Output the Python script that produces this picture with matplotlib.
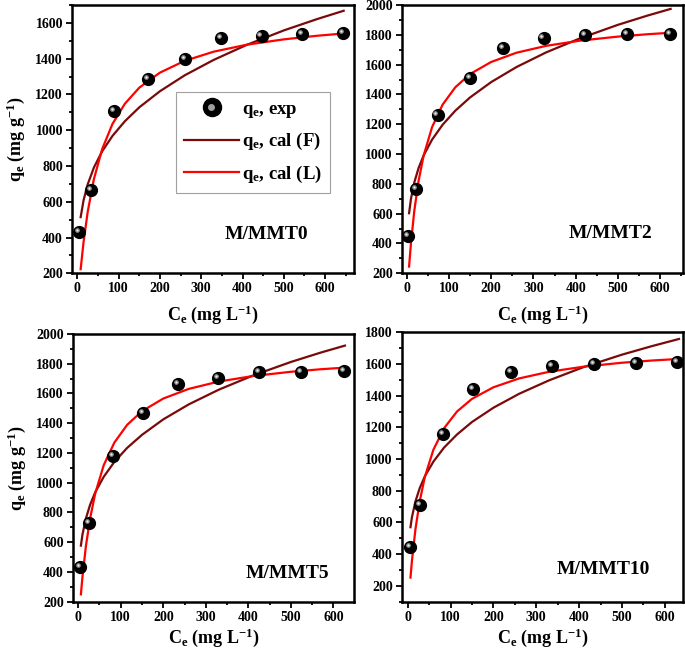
import matplotlib
matplotlib.use("Agg")
import matplotlib.pyplot as plt
import matplotlib.transforms as mtransforms
from matplotlib.lines import Line2D
from matplotlib.legend_handler import HandlerTuple
from matplotlib.ticker import MultipleLocator

plt.rcParams['font.family'] = ['Liberation Serif', 'DejaVu Serif']
plt.rcParams['font.weight'] = 'bold'
plt.rcParams['axes.labelweight'] = 'bold'
plt.rcParams['mathtext.fontset'] = 'custom'
plt.rcParams['mathtext.rm'] = 'Liberation Serif:bold'
plt.rcParams['mathtext.bf'] = 'Liberation Serif:bold'
plt.rcParams['mathtext.it'] = 'Liberation Serif:bold'
plt.rcParams['mathtext.default'] = 'bf'

# ---- data ----
names = ["M/MMT0", "M/MMT2", "M/MMT5", "M/MMT10"]

ce_mmt0 = [5, 33, 89, 172, 260, 348, 446, 545, 643]
qe_mmt0 = [433, 667, 1105, 1286, 1398, 1516, 1529, 1540, 1544]
cfit_mmt0 = [8, 15, 25, 40, 60, 85, 115, 150, 200, 260, 330, 410, 500, 580, 645]
qF_mmt0 = [514, 608, 697, 791, 882, 968, 1050, 1128, 1218, 1307, 1393, 1477, 1558, 1621, 1668]
qL_mmt0 = [223, 375, 543, 726, 894, 1035, 1148, 1238, 1322, 1388, 1439, 1478, 1508, 1528, 1541]

ce_mmt2 = [4, 22, 73, 150, 229, 324, 422, 522, 623]
qe_mmt2 = [447, 767, 1260, 1507, 1709, 1780, 1798, 1803, 1807]
cfit_mmt2 = [5.5, 10, 18, 28, 40, 60, 85, 115, 150, 200, 260, 330, 410, 500, 570, 625]
qF_mmt2 = [603, 700, 811, 906, 991, 1097, 1197, 1291, 1380, 1483, 1584, 1682, 1776, 1867, 1929, 1974]
qL_mmt2 = [245, 403, 622, 820, 990, 1181, 1332, 1448, 1537, 1618, 1680, 1726, 1761, 1788, 1804, 1814]

ce_mmt5 = [4, 26, 82, 153, 234, 329, 425, 524, 625]
qe_mmt5 = [435, 727, 1180, 1471, 1664, 1706, 1747, 1747, 1753]
cfit_mmt5 = [6.3, 10, 18, 28, 40, 60, 85, 115, 150, 200, 260, 330, 410, 500, 570, 627]
qF_mmt5 = [577, 651, 759, 852, 936, 1040, 1140, 1234, 1322, 1426, 1527, 1625, 1720, 1812, 1875, 1922]
qL_mmt5 = [249, 367, 572, 761, 928, 1118, 1270, 1389, 1481, 1566, 1631, 1680, 1717, 1746, 1763, 1774]

ce_mmt10 = [5, 29, 83, 153, 241, 336, 435, 532, 629]
qe_mmt10 = [442, 707, 1159, 1441, 1548, 1590, 1598, 1608, 1612]
cfit_mmt10 = [6.5, 10, 18, 28, 40, 60, 85, 115, 150, 200, 260, 330, 410, 500, 570, 633]
qF_mmt10 = [570, 634, 732, 816, 891, 984, 1073, 1155, 1234, 1324, 1412, 1497, 1580, 1659, 1713, 1758]
qL_mmt10 = [252, 360, 555, 733, 887, 1059, 1195, 1300, 1380, 1453, 1509, 1551, 1583, 1608, 1622, 1632]

panels = [
    (ce_mmt0, qe_mmt0, cfit_mmt0, qF_mmt0, qL_mmt0),
    (ce_mmt2, qe_mmt2, cfit_mmt2, qF_mmt2, qL_mmt2),
    (ce_mmt5, qe_mmt5, cfit_mmt5, qF_mmt5, qL_mmt5),
    (ce_mmt10, qe_mmt10, cfit_mmt10, qF_mmt10, qL_mmt10),
]

# ---- layout ----
positions = [
    [0.1051, 0.5815, 0.4117, 0.4108],
    [0.5864, 0.5815, 0.4111, 0.4108],
    [0.1061, 0.0786, 0.4111, 0.4099],
    [0.5864, 0.0786, 0.4111, 0.4125],
]
xlims = [(-13, 670), (-12, 655), (-13, 649), (-14, 643)]
ylims = [(200, 1700), (200, 2000), (200, 2000), (100, 1800)]
label_pos = [(0.69, 0.143), (0.74, 0.150), (0.761, 0.107), (0.715, 0.118)]

dark_red = '#7a0a0a'
red = '#ff0000'

fig = plt.figure(figsize=(6.85, 6.53), dpi=100)

for i, (ce, qe, cfit, qF, qL) in enumerate(panels):
    ax = fig.add_axes(positions[i])
    ax.plot(cfit, qF, color=dark_red, lw=1.6, zorder=2)
    ax.plot(cfit, qL, color=red, lw=1.6, zorder=3)
    # sphere-like markers: black ball plus a highlight shifted up-left
    ax.plot(ce, qe, 'o', ms=8.5, color='black', mec='black', zorder=4)
    hl = mtransforms.offset_copy(ax.transData, fig=fig, x=-1.5, y=1.5, units='points')
    ax.plot(ce, qe, 'o', ms=3.4, color='#8c8c8c', mec='none', transform=hl, zorder=5)
    ax.plot(ce, qe, 'o', ms=1.5, color='#f0f0f0', mec='none', transform=hl, zorder=6)

    ax.set_xlim(*xlims[i])
    ax.set_ylim(*ylims[i])
    ax.xaxis.set_major_locator(MultipleLocator(100))
    ax.xaxis.set_minor_locator(MultipleLocator(50))
    ax.yaxis.set_major_locator(MultipleLocator(200))
    ax.yaxis.set_minor_locator(MultipleLocator(100))
    ax.tick_params(which='both', direction='out', width=1.3, labelsize=10, pad=2.5)
    ax.tick_params(which='major', length=4)
    ax.tick_params(which='minor', length=2.5)
    for s in ax.spines.values():
        s.set_linewidth(1.8)

    ax.set_xlabel(r'C$_\mathbf{e}$ (mg L$^\mathbf{-1}$)', fontsize=13,
                  labelpad=6 if i < 2 else 2)
    if i in (0, 2):
        ax.set_ylabel(r'q$_\mathbf{e}$ (mg g$^\mathbf{-1}$)', fontsize=13, labelpad=6)

    ax.text(label_pos[i][0], label_pos[i][1], names[i], transform=ax.transAxes,
            ha='center', va='center', fontsize=14, fontweight='bold')

    if i == 0:
        ball = Line2D([], [], ls='none', marker='o', ms=13, color='black')
        shine = Line2D([], [], ls='none', marker='o', ms=5, color='#a0a0a0', mec='none')
        handles = [(ball, shine),
                   Line2D([], [], color=dark_red, lw=1.6),
                   Line2D([], [], color=red, lw=1.6)]
        labels = [r'q$_\mathbf{e}$, exp', r'q$_\mathbf{e}$, cal (F)', r'q$_\mathbf{e}$, cal (L)']
        leg = ax.legend(handles, labels, loc='upper left', bbox_to_anchor=(0.369, 0.676),
                        fontsize=13.5, frameon=True, fancybox=False, edgecolor='#888888',
                        handlelength=2.9, handletextpad=0.15, borderpad=0.45,
                        labelspacing=0.62, borderaxespad=0,
                        handler_map={tuple: HandlerTuple(ndivide=None, pad=-3)})
        leg.get_frame().set_linewidth(0.8)

fig.savefig('out.png', dpi=100)
